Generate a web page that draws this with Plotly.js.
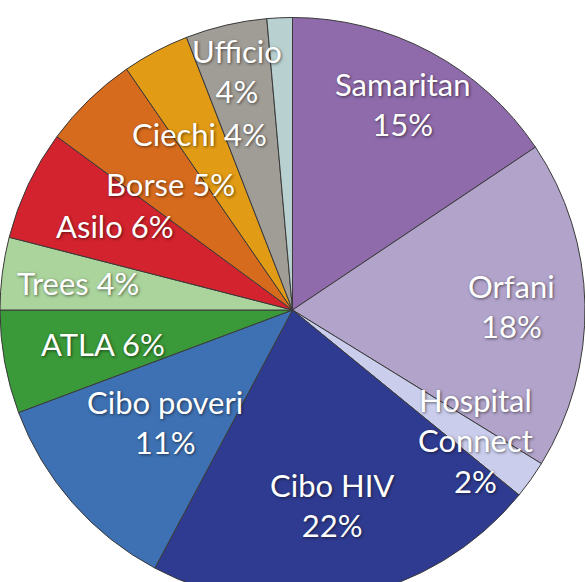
<!DOCTYPE html>
<html>
<head>
<meta charset="utf-8">
<script src="https://cdn.plot.ly/plotly-3.0.1.min.js"></script>
<style>
html, body { margin: 0; padding: 0; overflow: hidden; background: #ffffff; }
#chart { width: 585px; height: 620px; }
</style>
</head>
<body>
<div id="chart"></div>
<script>
// Data (clockwise from 12 o'clock)
const categories = ['Samaritan', 'Orfani', 'Hospital Connect', 'Cibo HIV', 'Cibo poveri',
  'ATLA', 'Trees', 'Asilo', 'Borse', 'Ciechi', 'Ufficio', 'Altro'];
const shares = [15.6, 18.2, 2.1, 21.9, 11.5, 5.7, 4.0, 6.1, 5.3, 3.7, 4.5, 1.4];
const printedPct = ['15%', '18%', '2%', '22%', '11%', '6%', '4%', '6%', '5%', '4%', '4%', ''];

// Styles
const colors = ['#8F6BAB', '#B1A3CA', '#CACDEB', '#2F3B90', '#3E71B3', '#3A9938',
  '#AAD49C', '#D2232E', '#D76B1D', '#E29B14', '#A09C96', '#B9D0D0'];
const nameLines = {
  'Samaritan': 'Samaritan<br>', 'Orfani': 'Orfani<br>', 'Hospital Connect': 'Hospital<br>Connect<br>',
  'Cibo HIV': 'Cibo HIV<br>', 'Cibo poveri': 'Cibo poveri<br>', 'Ufficio': 'Ufficio<br>'
};
const labelRadius = [0.80, 0.75, 0.77, 0.68, 0.58, 0.66, 0.74, 0.67, 0.60, 0.68, 0.84, 0];

const W = 585, H = 620;
const cx = W / 2, cy = H / 2, R = Math.min(W, H) / 2;
const total = shares.reduce((a, b) => a + b, 0);

const annotations = [];
let cum = 0;
shares.forEach((v, i) => {
  const mid = (cum + v / 2) / total * 2 * Math.PI;
  cum += v;
  if (!printedPct[i]) return;
  const r = labelRadius[i] * R;
  const px = cx + r * Math.sin(mid);
  const py = cy - r * Math.cos(mid);
  const name = nameLines[categories[i]] || (categories[i] + ' ');
  annotations.push({
    x: px / W, y: 1 - py / H, xref: 'paper', yref: 'paper',
    xanchor: 'center', yanchor: 'middle', showarrow: false,
    text: name + printedPct[i],
    font: { family: 'Lato, sans-serif', size: 31, color: '#ffffff',
            shadow: '1px 1px 3px rgba(0,0,0,0.55)' }
  });
});

const trace = {
  type: 'pie',
  labels: categories,
  values: shares,
  sort: false,
  direction: 'clockwise',
  rotation: 0,
  textinfo: 'none',
  hoverinfo: 'none',
  marker: { colors: colors, line: { color: '#3a3a3a', width: 1 } },
  domain: { x: [0, 1], y: [0, 1] }
};

Plotly.newPlot('chart', [trace], {
  width: W, height: H,
  margin: { l: 0, r: 0, t: 0, b: 0 },
  showlegend: false,
  paper_bgcolor: '#ffffff',
  annotations: annotations
}, { staticPlot: true });
</script>
</body>
</html>
